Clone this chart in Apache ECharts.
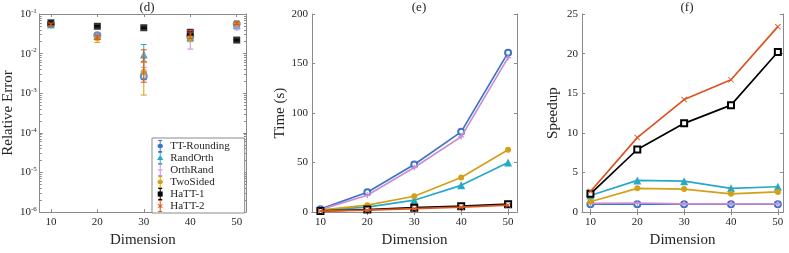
<!DOCTYPE html>
<html><head><meta charset="utf-8">
<script src="https://cdn.jsdelivr.net/npm/echarts@6/dist/echarts.min.js"></script>
<style>html,body{margin:0;padding:0;background:#fff}#c{width:789px;height:253px}</style>
</head><body><div id="c"></div>
<script>
// ---------- data ----------
const dims = [10, 20, 30, 40, 50];
const methods = ['TT-Rounding', 'RandOrth', 'OrthRand', 'TwoSided', 'HaTT-1', 'HaTT-2'];
const xTicks = [10, 20, 30, 40, 50];
const errTicks = [1e-6, 1e-5, 1e-4, 1e-3, 1e-2, 1e-1];

// (d) relative error: mean, lower, upper
const errTT     = [0.055, 0.029, 0.0027, 0.027, 0.056];
const errTTLo   = [0.051, 0.026, 0.0022, 0.022, 0.052];
const errTTHi   = [0.059, 0.032, 0.0033, 0.032, 0.060];
const errRO     = [0.054, 0.028, 0.0095, 0.026, 0.053];
const errROLo   = [0.050, 0.025, 0.0062, 0.021, 0.049];
const errROHi   = [0.058, 0.031, 0.0170, 0.031, 0.058];
const errOR     = [0.055, 0.027, 0.0045, 0.027, 0.045];
const errORLo   = [0.051, 0.024, 0.0035, 0.013, 0.040];
const errORHi   = [0.059, 0.030, 0.0060, 0.042, 0.050];
const errTS     = [0.055, 0.024, 0.0035, 0.025, 0.057];
const errTSLo   = [0.051, 0.019, 0.0009, 0.020, 0.053];
const errTSHi   = [0.059, 0.029, 0.0060, 0.030, 0.061];
const errH1     = [0.060, 0.049, 0.045, 0.034, 0.022];
const errH1Lo   = [0.058, 0.047, 0.043, 0.031, 0.021];
const errH1Hi   = [0.062, 0.051, 0.047, 0.037, 0.023];
const errH2     = [0.055, 0.026, 0.0072, 0.031, 0.058];
const errH2Lo   = [0.051, 0.023, 0.0019, 0.024, 0.054];
const errH2Hi   = [0.059, 0.029, 0.0125, 0.038, 0.063];

// (e) time (s)
const timeTT = [3, 20, 48, 81, 161];
const timeRO = [2, 5, 12, 27, 50];
const timeOR = [2.5, 17, 45, 76, 156];
const timeTS = [2, 7, 16, 35, 63];
const timeH1 = [1.2, 2.5, 4.5, 6, 8];
const timeH2 = [1, 2, 3.5, 5, 7];

// (f) speedup
const spTT = [1, 1, 1, 1, 1];
const spRO = [2.1, 4.0, 3.9, 3.0, 3.2];
const spOR = [1.1, 1.15, 1.05, 1.05, 1.03];
const spTS = [1.3, 3.0, 2.9, 2.3, 2.55];
const spH1 = [2.3, 7.9, 11.2, 13.5, 20.2];
const spH2 = [2.6, 9.4, 14.2, 16.7, 23.4];

const errSets  = [[errTT, errTTLo, errTTHi], [errRO, errROLo, errROHi], [errOR, errORLo, errORHi],
                  [errTS, errTSLo, errTSHi], [errH1, errH1Lo, errH1Hi], [errH2, errH2Lo, errH2Hi]];
const timeSets = [timeTT, timeRO, timeOR, timeTS, timeH1, timeH2];
const spSets   = [spTT, spRO, spOR, spTS, spH1, spH2];

// ---------- styles ----------
const FONT = 'Liberation Serif';
const colors = ['#3d74c6', '#27a9c6', '#c98fd6', '#d4a017', '#000000', '#d9541f'];
const plusPath = 'path://M4,0 H6 V4 H10 V6 H6 V10 H4 V6 H0 V4 H4 Z';
const xPath = 'path://M1,0 L5,4 L9,0 L10,1 L6,5 L10,9 L9,10 L5,6 L1,10 L0,9 L4,5 L0,1 Z';
const symbols = ['emptyCircle', 'triangle', plusPath, 'circle', 'emptyRect', xPath];
const symSizes = [6, 8, 6, 6, 6, 6];
const beam = 'M3,0 H7 V1 H3 Z M3,11 H7 V12 H3 Z M4.5,1 H5.5 V11 H4.5 Z ';
const legendMarks = [
  'M3.6,4 L6.4,4 L7.6,5 L7.6,7 L6.4,8 L3.6,8 L2.4,7 L2.4,5 Z',
  'M5,3 L8.2,8 L1.8,8 Z',
  'M4.5,3.5 H5.5 V5.5 H7.5 V6.5 H5.5 V8.5 H4.5 V6.5 H2.5 V5.5 H4.5 Z',
  'M3.6,4 L6.4,4 L7.6,5 L7.6,7 L6.4,8 L3.6,8 L2.4,7 L2.4,5 Z',
  'M2.5,3.5 H7.5 V8.5 H2.5 Z',
  'M3,4 L5,5.3 L7,4 L7.5,4.7 L5.7,6 L7.5,7.3 L7,8 L5,6.7 L3,8 L2.5,7.3 L4.3,6 L2.5,4.7 Z'
];
const AX = '#8a8a8a', TXT = '#262626';

const grids = [
  {left: 39, top: 14, width: 207, height: 205},
  {left: 312, top: 14, width: 205, height: 205},
  {left: 582, top: 14, width: 201, height: 205}
];
const xRanges = [[7.6, 52], [8.2, 51.9], [8.2, 51.1]];

const xAxes = [], yAxes = [];
grids.forEach((g, i) => {
  xAxes.push({
    type: 'value', gridIndex: i, min: xRanges[i][0], max: xRanges[i][1], position: 'bottom',
    name: 'Dimension', nameLocation: 'middle', nameGap: 17,
    nameTextStyle: {fontFamily: FONT, fontSize: 15, color: TXT},
    axisLine: {lineStyle: {color: AX}},
    axisTick: {inside: true, length: 3, customValues: xTicks, lineStyle: {color: AX}},
    axisLabel: {customValues: xTicks, margin: 5, fontFamily: FONT, fontSize: 11, color: TXT},
    splitLine: {show: false}
  });
  xAxes.push({
    type: 'value', gridIndex: i, min: xRanges[i][0], max: xRanges[i][1], position: 'top',
    axisLine: {lineStyle: {color: AX}},
    axisTick: {inside: true, length: 3, customValues: xTicks, lineStyle: {color: AX}},
    axisLabel: {show: false}, splitLine: {show: false}
  });
});

const minorLog = [];
for (let e = -6; e < -1; e++) for (let m = 2; m <= 9; m++) minorLog.push(m * Math.pow(10, e));

function supFmt(v) {
  const e = Math.round(Math.log10(v));
  return '{b|10}{s|' + e + '}';
}
// (d) y axes
yAxes.push({
  type: 'log', logBase: 10, gridIndex: 0, min: 1e-6, max: 1e-1, position: 'left',
  name: 'Relative Error', nameLocation: 'middle', nameGap: 22,
  nameTextStyle: {fontFamily: FONT, fontSize: 15, color: TXT},
  axisLine: {show: true, lineStyle: {color: AX}},
  axisTick: {inside: true, length: 3, customValues: errTicks, lineStyle: {color: AX}},
  axisLabel: {customValues: errTicks, margin: 3, formatter: supFmt,
    rich: {b: {fontFamily: FONT, fontSize: 11, color: TXT},
           s: {fontFamily: FONT, fontSize: 7, color: TXT, padding: [0, 0, 6, 0]}}},
  splitLine: {show: false}
});
yAxes.push({
  type: 'log', logBase: 10, gridIndex: 0, min: 1e-6, max: 1e-1, position: 'right',
  axisLine: {show: true, lineStyle: {color: AX}},
  axisTick: {inside: true, length: 3, customValues: errTicks, lineStyle: {color: AX}},
  axisLabel: {show: false}, splitLine: {show: false}
});
['left', 'right'].forEach(p => yAxes.push({
  type: 'log', logBase: 10, gridIndex: 0, min: 1e-6, max: 1e-1, position: p,
  axisLine: {show: false},
  axisTick: {inside: true, length: 2, customValues: minorLog, lineStyle: {color: AX}},
  axisLabel: {show: false}, splitLine: {show: false}
}));
// (e), (f) y axes
[[1, 'Time (s)', 200, 50, 24], [2, 'Speedup', 25, 5, 21]].forEach(([gi, nm, mx, iv, gap]) => {
  yAxes.push({
    type: 'value', gridIndex: gi, min: 0, max: mx, interval: iv, position: 'left',
    name: nm, nameLocation: 'middle', nameGap: gap,
    nameTextStyle: {fontFamily: FONT, fontSize: 15, color: TXT},
    axisLine: {show: true, lineStyle: {color: AX}},
    axisTick: {inside: true, length: 3, lineStyle: {color: AX}},
    axisLabel: {margin: 4, fontFamily: FONT, fontSize: 11, color: TXT},
    splitLine: {show: false}
  });
  yAxes.push({
    type: 'value', gridIndex: gi, min: 0, max: mx, interval: iv, position: 'right',
    axisLine: {show: true, lineStyle: {color: AX}},
    axisTick: {inside: true, length: 3, lineStyle: {color: AX}},
    axisLabel: {show: false}, splitLine: {show: false}
  });
});

function renderErr(params, api) {
  const x = api.value(0), lo = api.value(2), hi = api.value(3);
  const pTop = api.coord([x, hi]), pBot = api.coord([x, lo]);
  const w = 3;
  const st = {stroke: api.visual('color'), lineWidth: 1};
  return {type: 'group', children: [
    {type: 'line', shape: {x1: pTop[0], y1: pTop[1], x2: pBot[0], y2: pBot[1]}, style: st},
    {type: 'line', shape: {x1: pTop[0] - w, y1: pTop[1], x2: pTop[0] + w, y2: pTop[1]}, style: st},
    {type: 'line', shape: {x1: pBot[0] - w, y1: pBot[1], x2: pBot[0] + w, y2: pBot[1]}, style: st}
  ]};
}

const series = [];
methods.forEach((m, i) => {
  const [mean, lo, hi] = errSets[i];
  series.push({
    name: m, type: 'custom', xAxisIndex: 0, yAxisIndex: 0, renderItem: renderErr,
    itemStyle: {color: colors[i]}, encode: {x: 0, y: [1, 2, 3]},
    data: dims.map((d, k) => [d, mean[k], lo[k], hi[k]]), z: 2 + i
  });
  series.push({
    name: m, type: 'scatter', xAxisIndex: 0, yAxisIndex: 0,
    symbol: i === 4 ? 'rect' : symbols[i], symbolSize: i === 4 ? 7 : symSizes[i],
    itemStyle: {color: colors[i], borderColor: colors[i], borderWidth: i === 0 ? 1.5 : 0},
    data: dims.map((d, k) => [d, mean[k]]), z: 2 + i
  });
});
[[timeSets, 2, 4], [spSets, 4, 6]].forEach(([sets, xi, yi]) => {
  methods.forEach((m, i) => {
    series.push({
      name: m, type: 'line', xAxisIndex: xi, yAxisIndex: yi,
      symbol: symbols[i], symbolSize: symSizes[i], showSymbol: true,
      lineStyle: {color: colors[i], width: 1.7},
      itemStyle: {color: colors[i], borderColor: colors[i], borderWidth: (i === 0 || i === 4) ? 1.5 : 0},
      data: dims.map((d, k) => [d, sets[i][k]]), z: 2 + i
    });
  });
});

const option = {
  animation: false,
  backgroundColor: '#fff',
  grid: grids,
  xAxis: xAxes,
  yAxis: yAxes,
  title: [
    {text: '(d)', left: 142, top: -4, textAlign: 'center', textStyle: {fontFamily: FONT, fontSize: 13, fontWeight: 'normal', color: TXT}},
    {text: '(e)', left: 414, top: -4, textAlign: 'center', textStyle: {fontFamily: FONT, fontSize: 13, fontWeight: 'normal', color: TXT}},
    {text: '(f)', left: 682, top: -4, textAlign: 'center', textStyle: {fontFamily: FONT, fontSize: 13, fontWeight: 'normal', color: TXT}}
  ],
  legend: {
    orient: 'vertical', left: 152, top: 138,
    padding: [2, 15, 1, 5], itemGap: 0, itemWidth: 10, itemHeight: 12,
    backgroundColor: '#fff', borderColor: '#8a8a8a', borderWidth: 1, borderRadius: 0,
    selectedMode: false,
    textStyle: {fontFamily: FONT, fontSize: 11, color: TXT},
    data: methods.map((m, i) => ({name: m, icon: 'path://' + beam + legendMarks[i], itemStyle: {color: colors[i]}}))
  },
  series: series
};
const chart = echarts.init(document.getElementById('c'), null, {renderer: 'canvas'});
chart.setOption(option);
</script></body></html>
